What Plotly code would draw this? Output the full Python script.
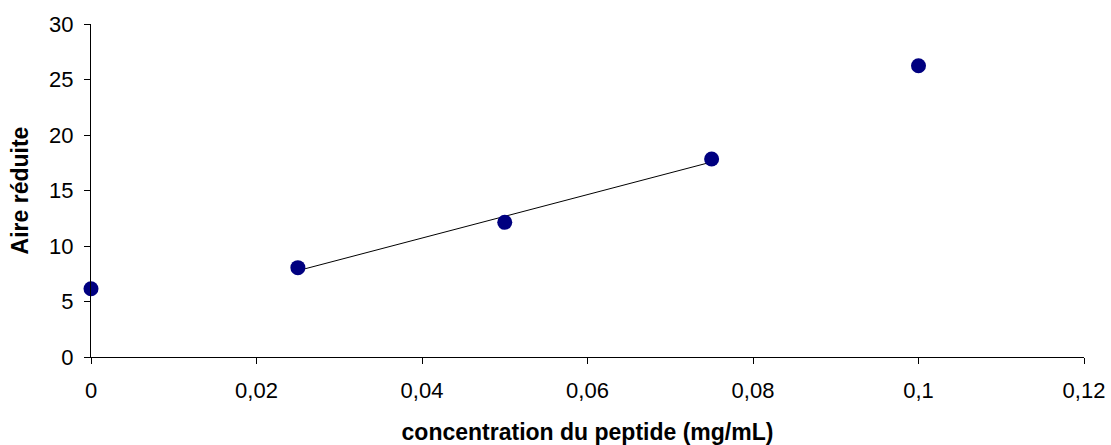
import numpy as np
import plotly.graph_objects as go

# Measured points: peptide concentration (mg/mL) vs reduced area
concentration = [0.0, 0.025, 0.05, 0.075, 0.1]
aire_reduite = [6.15, 8.05, 12.13, 17.84, 26.24]

# Linear trendline fitted on the three middle points
fit_x = concentration[1:4]
fit_y = aire_reduite[1:4]

x_tickvals = [0, 0.02, 0.04, 0.06, 0.08, 0.1, 0.12]
x_ticktext = ["0", "0,02", "0,04", "0,06", "0,08", "0,1", "0,12"]
y_tickvals = [0, 5, 10, 15, 20, 25, 30]
y_ticktext = ["0", "5", "10", "15", "20", "25", "30"]

slope, intercept = np.polyfit(fit_x, fit_y, 1)
line_x = [min(fit_x), max(fit_x)]
line_y = [slope * v + intercept for v in line_x]

FONT = "Liberation Sans, Arial, sans-serif"

fig = go.Figure()
fig.add_trace(go.Scatter(
    x=line_x, y=line_y, mode="lines",
    line=dict(color="black", width=1),
    showlegend=False, hoverinfo="skip",
))
fig.add_trace(go.Scatter(
    x=concentration, y=aire_reduite, mode="markers",
    marker=dict(color="#000080", size=15, line=dict(width=0)),
    showlegend=False, cliponaxis=False,
))

fig.update_layout(
    width=1111, height=445,
    margin=dict(l=91, r=27, t=24, b=88),
    paper_bgcolor="white", plot_bgcolor="white",
    font=dict(family=FONT, color="black", size=22),
    xaxis=dict(
        range=[0, 0.12], tickvals=x_tickvals, ticktext=x_ticktext,
        showgrid=False, zeroline=False,
        showline=True, linecolor="black", linewidth=1,
        ticks="outside", ticklen=6, tickcolor="black", tickwidth=1,
        tickfont=dict(size=22), ticklabelstandoff=8,
        title=dict(text="<b>concentration du peptide (mg/mL)</b>",
                   font=dict(size=23), standoff=22),
        automargin=False,
    ),
    yaxis=dict(
        range=[0, 30], tickvals=y_tickvals, ticktext=y_ticktext,
        showgrid=False, zeroline=False,
        showline=True, linecolor="black", linewidth=1,
        ticks="outside", ticklen=6, tickcolor="black", tickwidth=1,
        tickfont=dict(size=22), ticklabelstandoff=6,
        title=dict(text="<b>Aire réduite</b>", font=dict(size=23), standoff=14),
        automargin=False,
    ),
)

fig.write_html("out.html")
